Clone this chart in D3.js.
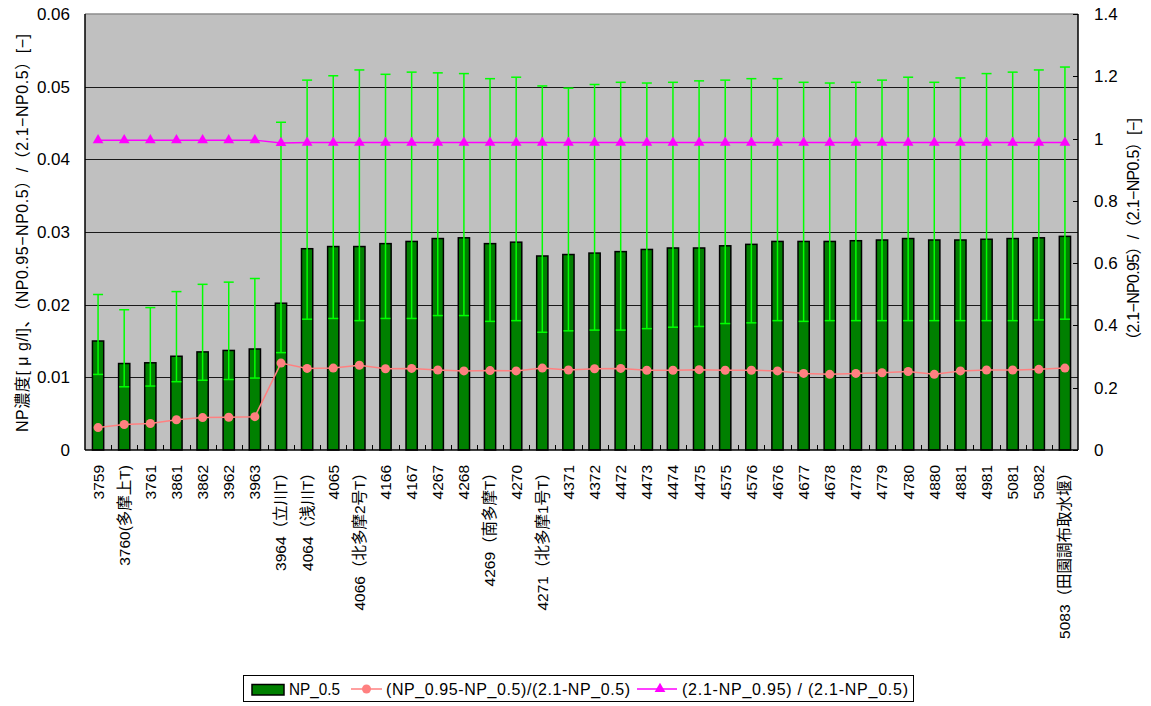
<!DOCTYPE html>
<html>
<head>
<meta charset="utf-8">
<script src="https://cdn.jsdelivr.net/npm/d3@7/dist/d3.min.js"></script>
<style>
  html, body { margin: 0; padding: 0; background: #ffffff; }
  svg { display: block; font-family: "Liberation Sans", Arial, "Noto Sans CJK JP", sans-serif; }
</style>
</head>
<body>
<svg id="chart" width="1151" height="706"></svg>
<script>
// Monitoring points along the river
const categories = [
  "3759", "3760(多摩上T)", "3761", "3861", "3862", "3962", "3963", "3964（立川T）",
  "4064（浅川T）", "4065", "4066（北多摩2号T）", "4166", "4167", "4267", "4268",
  "4269（南多摩T）", "4270", "4271（北多摩1号T）", "4371", "4372", "4472", "4473",
  "4474", "4475", "4575", "4576", "4676", "4677", "4678", "4778", "4779", "4780",
  "4880", "4881", "4981", "5081", "5082", "5083（田園調布取水堰）"
];

// NP_0.5 concentration [μg/l] (bars, left axis)
const np05 = [
  0.0150, 0.0119, 0.0120, 0.0129, 0.0135, 0.0137, 0.0139, 0.0202,
  0.0277, 0.0280, 0.0280, 0.0284, 0.0287, 0.0291, 0.0292, 0.0284,
  0.0286, 0.0267, 0.0269, 0.0271, 0.0273, 0.0276, 0.0278, 0.0278,
  0.0281, 0.0283, 0.0287, 0.0287, 0.0287, 0.0288, 0.0289, 0.0291,
  0.0289, 0.0289, 0.0290, 0.0291, 0.0292, 0.0294
];

// Error bar ends (left axis)
const errUpper = [
  0.0214, 0.0193, 0.0196, 0.0218, 0.0228, 0.0231, 0.0236, 0.0451,
  0.0509, 0.0515, 0.0523, 0.0517, 0.0520, 0.0519, 0.0518, 0.0511,
  0.0513, 0.0501, 0.0498, 0.0503, 0.0506, 0.0505, 0.0506, 0.0508,
  0.0509, 0.0511, 0.0511, 0.0506, 0.0505, 0.0506, 0.0509, 0.0513,
  0.0506, 0.0512, 0.0518, 0.0520, 0.0523, 0.0527
];
const errLower = [
  0.0104, 0.0087, 0.0088, 0.0094, 0.0096, 0.0097, 0.0099, 0.0134,
  0.0180, 0.0181, 0.0178, 0.0181, 0.0181, 0.0185, 0.0185, 0.0177,
  0.0178, 0.0162, 0.0164, 0.0165, 0.0165, 0.0167, 0.0169, 0.0170,
  0.0174, 0.0175, 0.0178, 0.0177, 0.0178, 0.0178, 0.0178, 0.0178,
  0.0178, 0.0178, 0.0178, 0.0178, 0.0179, 0.0180
];

// (NP_0.95-NP_0.5)/(2.1-NP_0.5) (right axis)
const ratioSpread = [
  0.072, 0.082, 0.085, 0.097, 0.104, 0.105, 0.107, 0.279,
  0.262, 0.263, 0.272, 0.261, 0.262, 0.257, 0.254, 0.255,
  0.254, 0.263, 0.257, 0.261, 0.262, 0.256, 0.256, 0.258,
  0.256, 0.256, 0.254, 0.246, 0.243, 0.246, 0.248, 0.252,
  0.243, 0.254, 0.257, 0.257, 0.259, 0.263
];

// (2.1-NP_0.95)/(2.1-NP_0.5) (right axis)
const ratioMargin = [
  0.995, 0.995, 0.995, 0.995, 0.995, 0.995, 0.995, 0.986,
  0.987, 0.987, 0.987, 0.987, 0.987, 0.987, 0.987, 0.987,
  0.987, 0.987, 0.987, 0.987, 0.987, 0.987, 0.987, 0.987,
  0.987, 0.987, 0.987, 0.987, 0.987, 0.987, 0.987, 0.987,
  0.987, 0.987, 0.987, 0.987, 0.987, 0.987
];

const leftTicks = [0, 0.01, 0.02, 0.03, 0.04, 0.05, 0.06];
const rightTicks = [0, 0.2, 0.4, 0.6, 0.8, 1.0, 1.2, 1.4];

const seriesNames = ["NP_0.5", "(NP_0.95-NP_0.5)/(2.1-NP_0.5)", "(2.1-NP_0.95) / (2.1-NP_0.5)"];
const leftTitle = "NP濃度[ μ g/l]、（NP0.95−NP0.5）/（2.1−NP0.5）[−]";
const rightTitle = "（2.1−NP0.95）/（2.1−NP0.5）[−]";

const svg = d3.select("#chart");
const plot = { left: 85, right: 1078, top: 14, bottom: 450 };

const x = d3.scaleBand().domain(categories).range([plot.left, plot.right]).paddingInner(0.57).paddingOuter(0.285);
const step = x.step();
const yL = d3.scaleLinear().domain([0, 0.06]).range([plot.bottom, plot.top]);
const yR = d3.scaleLinear().domain([0, 1.4]).range([plot.bottom, plot.top]);
const cx = (i) => x(categories[i]) + x.bandwidth() / 2;

// Plot background
svg.append("rect")
  .attr("x", plot.left).attr("y", plot.top)
  .attr("width", plot.right - plot.left).attr("height", plot.bottom - plot.top)
  .attr("fill", "#c0c0c0");

// Horizontal gridlines from the left axis
svg.append("g").selectAll("line").data(leftTicks.filter(d => d > 0 && d < 0.06)).join("line")
  .attr("x1", plot.left).attr("x2", plot.right)
  .attr("y1", d => Math.round(yL(d)) + 0.5).attr("y2", d => Math.round(yL(d)) + 0.5)
  .attr("stroke", "#1a1a1a").attr("stroke-width", 1);

// Top border of the plot
svg.append("line")
  .attr("x1", plot.left).attr("x2", plot.right)
  .attr("y1", plot.top).attr("y2", plot.top)
  .attr("stroke", "#8c8c8c").attr("stroke-width", 1.5);

// Bars
svg.append("g").selectAll("rect").data(np05).join("rect")
  .attr("x", (d, i) => x(categories[i]))
  .attr("y", d => yL(d))
  .attr("width", x.bandwidth())
  .attr("height", d => plot.bottom - yL(d))
  .attr("fill", "#008000")
  .attr("stroke", "#000000")
  .attr("stroke-width", 1.5);

// Error bars
const eb = svg.append("g").attr("stroke", "#00ff00").attr("stroke-width", 1.5);
categories.forEach((c, i) => {
  const px = cx(i);
  eb.append("line").attr("x1", px).attr("x2", px).attr("y1", yL(errLower[i])).attr("y2", yL(errUpper[i]));
  eb.append("line").attr("x1", px - 5).attr("x2", px + 5).attr("y1", yL(errLower[i])).attr("y2", yL(errLower[i]));
  eb.append("line").attr("x1", px - 5).attr("x2", px + 5).attr("y1", yL(errUpper[i])).attr("y2", yL(errUpper[i]));
});

// Axes lines
svg.append("line").attr("x1", plot.left).attr("x2", plot.left).attr("y1", plot.top).attr("y2", plot.bottom)
  .attr("stroke", "#000").attr("stroke-width", 1.5);
svg.append("line").attr("x1", plot.right).attr("x2", plot.right).attr("y1", plot.top).attr("y2", plot.bottom)
  .attr("stroke", "#000").attr("stroke-width", 1.5);
svg.append("line").attr("x1", plot.left).attr("x2", plot.right).attr("y1", plot.bottom).attr("y2", plot.bottom)
  .attr("stroke", "#000").attr("stroke-width", 1.5);

// Category tick marks (inside, at band boundaries)
svg.append("g").selectAll("line").data(d3.range(1, categories.length)).join("line")
  .attr("x1", i => Math.round(plot.left + i * step) + 0.5)
  .attr("x2", i => Math.round(plot.left + i * step) + 0.5)
  .attr("y1", plot.bottom).attr("y2", plot.bottom - 5)
  .attr("stroke", "#000").attr("stroke-width", 1);

// Right axis tick marks (inside)
svg.append("g").selectAll("line").data(rightTicks).join("line")
  .attr("x1", plot.right - 5).attr("x2", plot.right)
  .attr("y1", d => Math.round(yR(d)) + 0.5).attr("y2", d => Math.round(yR(d)) + 0.5)
  .attr("stroke", "#000").attr("stroke-width", 1);

// Left tick labels
svg.append("g").selectAll("text").data(leftTicks).join("text")
  .attr("x", 70).attr("y", d => yL(d))
  .attr("dy", "0.35em")
  .attr("text-anchor", "end")
  .attr("font-size", 17)
  .text(d => d === 0 ? "0" : d3.format(".2f")(d));

// Right tick labels
svg.append("g").selectAll("text").data(rightTicks).join("text")
  .attr("x", 1094).attr("y", d => yR(d))
  .attr("dy", "0.35em")
  .attr("text-anchor", "start")
  .attr("font-size", 17)
  .text(d => d === 0 ? "0" : d3.format("~g")(d));

// Category labels (vertical)
svg.append("g").selectAll("text").data(categories).join("text")
  .attr("transform", (d, i) => `translate(${cx(i)},465) rotate(-90)`)
  .attr("dy", "0.35em")
  .attr("text-anchor", "end")
  .attr("font-size", 15.5)
  .text(d => d);

// Spread ratio line with circles
const lineR = d3.line().x((d, i) => cx(i)).y(d => yR(d));
svg.append("path").datum(ratioSpread).attr("d", lineR)
  .attr("fill", "none").attr("stroke", "#ff8080").attr("stroke-width", 1.5);
svg.append("g").selectAll("circle").data(ratioSpread).join("circle")
  .attr("cx", (d, i) => cx(i))
  .attr("cy", d => yR(d))
  .attr("r", 4.5)
  .attr("fill", "#ff8080");

// Margin ratio line with triangles
svg.append("path").datum(ratioMargin).attr("d", lineR)
  .attr("fill", "none").attr("stroke", "#ff00ff").attr("stroke-width", 1.5);
const tri = d3.symbol().type(d3.symbolTriangle).size(50);
svg.append("g").selectAll("path").data(ratioMargin).join("path")
  .attr("transform", (d, i) => `translate(${cx(i)},${yR(d)})`)
  .attr("d", tri)
  .attr("fill", "#ff00ff");

// Axis titles
svg.append("text")
  .attr("transform", "translate(22,233) rotate(-90)")
  .attr("dy", "0.35em")
  .attr("text-anchor", "middle")
  .attr("font-size", 16)
  .attr("textLength", 398)
  .attr("lengthAdjust", "spacing")
  .text(leftTitle);
svg.append("text")
  .attr("transform", "translate(1133,233) rotate(-90)")
  .attr("dy", "0.35em")
  .attr("text-anchor", "middle")
  .attr("font-size", 16)
  .attr("textLength", 230)
  .attr("lengthAdjust", "spacing")
  .text(rightTitle);

// Legend
const lg = svg.append("g");
lg.append("rect").attr("x", 243.5).attr("y", 675.5).attr("width", 670).attr("height", 26)
  .attr("fill", "#ffffff").attr("stroke", "#000").attr("stroke-width", 1);
lg.append("rect").attr("x", 252).attr("y", 684.5).attr("width", 32).attr("height", 10.5)
  .attr("fill", "#008000").attr("stroke", "#000").attr("stroke-width", 1.5);
lg.append("text").attr("x", 289).attr("y", 689).attr("dy", "0.36em").attr("font-size", 16)
  .attr("textLength", 51).attr("lengthAdjust", "spacingAndGlyphs").text(seriesNames[0]);
lg.append("line").attr("x1", 351).attr("x2", 382).attr("y1", 689).attr("y2", 689)
  .attr("stroke", "#ff8080").attr("stroke-width", 1.5);
lg.append("circle").attr("cx", 366.5).attr("cy", 689).attr("r", 4.5).attr("fill", "#ff8080");
lg.append("text").attr("x", 386).attr("y", 689).attr("dy", "0.36em").attr("font-size", 16)
  .attr("textLength", 244).attr("lengthAdjust", "spacing").text(seriesNames[1]);
lg.append("line").attr("x1", 637).attr("x2", 677).attr("y1", 689).attr("y2", 689)
  .attr("stroke", "#ff00ff").attr("stroke-width", 1.5);
lg.append("path").attr("transform", "translate(660,689)").attr("d", tri).attr("fill", "#ff00ff");
lg.append("text").attr("x", 682).attr("y", 689).attr("dy", "0.36em").attr("font-size", 16)
  .attr("textLength", 226).attr("lengthAdjust", "spacing").text(seriesNames[2]);
</script>
</body>
</html>
